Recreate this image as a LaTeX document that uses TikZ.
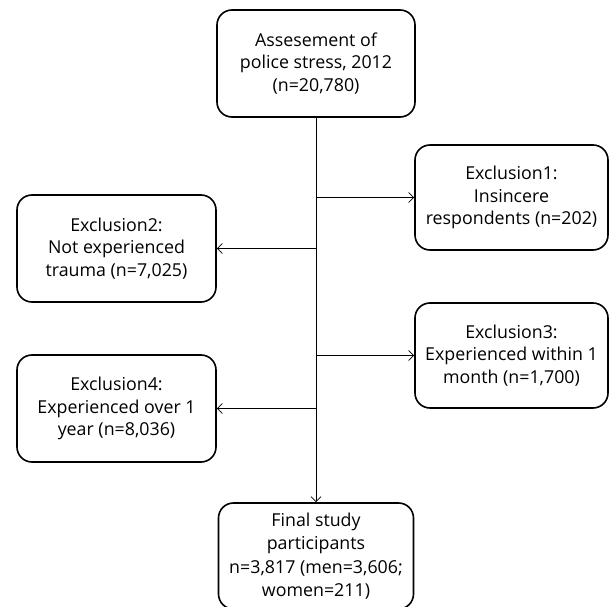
\documentclass[tikz,border=0pt]{standalone}
\usepackage{fontspec}
\setmainfont{Open Sans}
\usepackage{tikz}
\usetikzlibrary{shapes,arrows,arrows.meta}

\begin{document}
\begin{tikzpicture}[x=1pt, y=-1pt]
\tikzstyle{stagebox} = [rectangle, rounded corners=15pt, draw, line width=1.6pt,
	align=center, inner sep=2pt, font=\fontsize{17.8}{22.5}\selectfont]
\tikzstyle{flow} = [-{Straight Barb[length=5pt,width=10pt]}, line width=0.8pt]
\useasboundingbox (0,0) rectangle (614,607);
\node[stagebox, minimum width=198pt, minimum height=107pt] (assess) at (316,63.5)
	{Assesement of\\police stress, 2012\\(n=20,780)};
\node[stagebox, minimum width=193pt, minimum height=105pt] (excl1) at (511.5,197.5)
	{Exclusion1:\\Insincere\\respondents (n=202)};
\node[stagebox, minimum width=199pt, minimum height=107pt] (excl2) at (116.5,248.5)
	{Exclusion2:\\Not experienced\\trauma (n=7,025)};
\node[stagebox, minimum width=193pt, minimum height=105pt] (excl3) at (511.5,355.5)
	{Exclusion3:\\Experienced within 1\\month (n=1,700)};
\node[stagebox, minimum width=199pt, minimum height=107pt] (excl4) at (116.5,408.5)
	{Exclusion4:\\Experienced over 1\\year (n=8,036)};
\node[stagebox, minimum width=195pt, minimum height=106pt, font=\fontsize{17.8}{23.5}\selectfont]
	(final) at (316,556)
	{Final study\\participants\\n=3,817 (men=3,606;\\women=211)};
% trunk
\draw[flow] (assess.south) -- (final.north);
% exclusions
\draw[flow] (assess.south |- excl1.west) -- (excl1.west);
\draw[flow] (assess.south |- excl2.east) -- (excl2.east);
\draw[flow] (assess.south |- excl3.west) -- (excl3.west);
\draw[flow] (assess.south |- excl4.east) -- (excl4.east);
\end{tikzpicture}
\end{document}
